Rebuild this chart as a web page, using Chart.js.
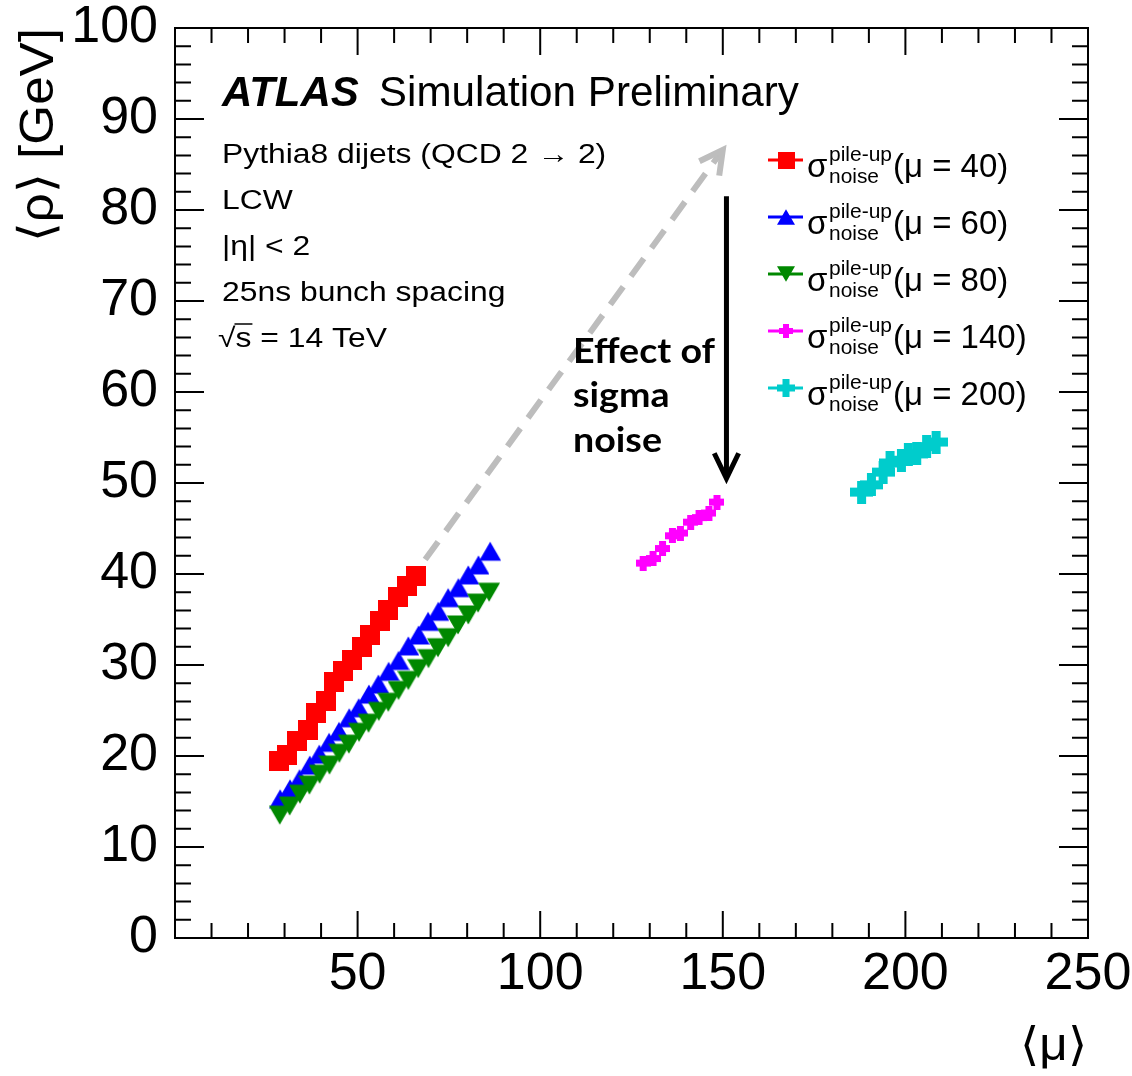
<!DOCTYPE html>
<html>
<head>
<meta charset="utf-8">
<script src="https://cdn.jsdelivr.net/npm/chart.js@4.4.1/dist/chart.umd.min.js"></script>
<style>
  html, body { margin: 0; padding: 0; background: #fff; }
</style>
</head>
<body>
<canvas id="rho" width="1132" height="1076"></canvas>
<script>
// <rho> vs <mu> for the pile-up noise thresholds tuned at different mu
const legendMu = [40, 60, 80, 140, 200];
const seriesColors = ['#ff0000', '#0000ff', '#008800', '#ff00ff', '#00cccc'];

const mu40 = [28.6, 30.8, 33.5, 36.3, 38.6, 41.3, 43.5, 46.1, 48.6, 51.1, 53.4, 56.1, 58.4, 61.1, 63.4, 66.1];
const rho40 = [19.4, 20.1, 21.6, 22.9, 24.7, 26.0, 28.1, 29.3, 30.5, 32.0, 33.3, 34.8, 36.0, 37.5, 38.7, 39.8];

const mu60 = [28.8, 31.5, 34.1, 36.9, 39.5, 42.2, 44.9, 47.7, 50.3, 53.1, 55.7, 58.5, 61.2, 63.9, 66.7, 69.3, 72.1, 74.8, 77.6, 80.3, 83.1, 86.3];
const rho60 = [15.3, 16.4, 17.5, 19.0, 20.2, 21.5, 22.7, 24.2, 25.3, 26.8, 27.9, 29.3, 30.5, 32.1, 33.3, 34.8, 35.9, 37.4, 38.5, 39.9, 41.0, 42.5];

const mu80 = [28.7, 31.4, 34.2, 36.8, 39.6, 42.3, 45.0, 47.6, 50.4, 53.0, 55.8, 58.4, 61.2, 63.9, 66.6, 69.4, 72.0, 74.8, 77.5, 80.3, 83.0, 86.0];
const rho80 = [13.5, 14.5, 15.8, 16.8, 18.0, 19.0, 20.3, 21.3, 22.6, 23.6, 24.9, 25.9, 27.2, 28.3, 29.6, 30.7, 31.9, 33.0, 34.4, 35.5, 36.8, 38.0];

const mu140 = [128.2, 130.9, 133.5, 136.2, 138.4, 141.2, 143.5, 146.2, 148.4];
const rho140 = [41.2, 41.7, 42.8, 44.2, 44.5, 45.7, 46.2, 46.7, 47.9];

const mu200 = [188.0, 190.7, 193.9, 195.8, 198.9, 200.8, 203.1, 205.8, 208.4];
const rho200 = [49.0, 49.8, 51.2, 52.2, 52.5, 53.1, 53.2, 54.0, 54.5];

const xTickLabels = ['', '50', '100', '150', '200', '250'];
const yTickLabels = ['0', '10', '20', '30', '40', '50', '60', '70', '80', '90', '100'];

const infoLines = ['Pythia8 dijets (QCD 2 \u2192 2)', 'LCW', '|\u03b7| < 2', '25ns bunch spacing'];

const FONT = '"Liberation Sans", Arial, Helvetica, sans-serif';

// ROOT-like filled markers, drawn once into small canvases
function marker(shape, color, size, arm) {
  const c = document.createElement('canvas');
  c.width = c.height = size;
  const g = c.getContext('2d');
  const s = size;
  g.fillStyle = color;
  if (shape === 'square') {
    g.fillRect(0, 0, s, s);
  } else if (shape === 'up' || shape === 'down') {
    const h = s * 0.87, top = (s - h) / 2;
    g.beginPath();
    if (shape === 'up') {
      g.moveTo(s / 2, top); g.lineTo(s, top + h); g.lineTo(0, top + h);
    } else {
      g.moveTo(0, top); g.lineTo(s, top); g.lineTo(s / 2, top + h);
    }
    g.closePath();
    g.fill();
  } else {
    const t = Math.round(s * arm);
    g.fillRect((s - t) / 2, 0, t, s);
    g.fillRect(0, (s - t) / 2, s, t);
  }
  return c;
}

const shapes = ['square', 'up', 'down', 'cross', 'cross'];
const armWidths = [0, 0, 0, 0.46, 0.38];
const plotSizes = [20, 22, 22, 15, 23];
const legendSizes = [17, 18, 18, 14, 18];
const plotMarkers = shapes.map((s, i) => marker(s, seriesColors[i], plotSizes[i], armWidths[i]));
const legendMarkers = shapes.map((s, i) => marker(s, seriesColors[i], legendSizes[i], armWidths[i]));

const toPoints = (xs, ys) => xs.map((v, i) => ({ x: v, y: ys[i] }));
const series = [[mu40, rho40], [mu60, rho60], [mu80, rho80], [mu140, rho140], [mu200, rho200]];

function drawText(ctx, str, x, y, font, opts = {}) {
  ctx.save();
  ctx.font = font;
  ctx.fillStyle = opts.color || '#000';
  ctx.textAlign = opts.align || 'left';
  ctx.textBaseline = 'alphabetic';
  let sx = opts.sx || 1;
  if (opts.width) sx = opts.width / ctx.measureText(str).width;
  const w = ctx.measureText(str).width * sx;
  ctx.translate(x, y);
  if (opts.rotate) ctx.rotate(opts.rotate);
  ctx.scale(sx, 1);
  ctx.fillText(str, 0, 0);
  ctx.restore();
  return w;
}

function arrowHead(ctx, x0, y0, x1, y1, len, ang) {
  const a = Math.atan2(y1 - y0, x1 - x0);
  ctx.beginPath();
  ctx.moveTo(x1 - len * Math.cos(a - ang), y1 - len * Math.sin(a - ang));
  ctx.lineTo(x1, y1);
  ctx.lineTo(x1 - len * Math.cos(a + ang), y1 - len * Math.sin(a + ang));
  ctx.stroke();
}

// frame with inward ticks on all four sides
const frame = {
  id: 'frame',
  beforeDatasetsDraw(chart) {
    const { ctx, chartArea: a, scales: { x, y } } = chart;
    ctx.save();
    ctx.strokeStyle = '#000';
    ctx.lineWidth = 2;
    ctx.beginPath();
    for (let v = 10; v < 250; v += 10) {
      const px = x.getPixelForValue(v);
      const len = v % 50 === 0 ? 27 : 15;
      ctx.moveTo(px, a.bottom); ctx.lineTo(px, a.bottom - len);
      ctx.moveTo(px, a.top); ctx.lineTo(px, a.top + len);
    }
    for (let v = 2; v < 100; v += 2) {
      const py = y.getPixelForValue(v);
      const len = v % 10 === 0 ? 29 : 16;
      ctx.moveTo(a.left, py); ctx.lineTo(a.left + len, py);
      ctx.moveTo(a.right, py); ctx.lineTo(a.right - len, py);
    }
    ctx.stroke();
    ctx.strokeRect(a.left, a.top, a.right - a.left, a.bottom - a.top);
    ctx.restore();
  }
};

const labels = {
  id: 'labels',
  afterDatasetsDraw(chart) {
    const { ctx, scales: { x, y } } = chart;

    // axis titles
    drawText(ctx, '\u27e8\u03c1\u27e9 [GeV]', 53, 28, `49px ${FONT}`, { align: 'right', rotate: -Math.PI / 2, width: 214 });
    drawText(ctx, '\u27e8\u03bc\u27e9', 1087, 1060, `46px ${FONT}`, { align: 'right', width: 67 });

    // ATLAS label and info block
    const wA = drawText(ctx, 'ATLAS', 222, 106, `italic bold 42px ${FONT}`);
    drawText(ctx, 'Simulation Preliminary', 222 + wA + 20, 106, `43px ${FONT}`, { width: 420 });
    infoLines.forEach((t, i) => {
      drawText(ctx, t, 222, 163 + i * 46, `27px ${FONT}`, { sx: 1.18 });
    });
    const f27 = `27px ${FONT}`;
    const wRoot = drawText(ctx, '\u221a', 218, 347, f27, { sx: 1.18 });
    const wS = drawText(ctx, 's', 218 + wRoot, 347, f27, { sx: 1.18 });
    drawText(ctx, ' = 14 TeV', 218 + wRoot + wS, 347, f27, { sx: 1.18 });
    ctx.save();
    ctx.strokeStyle = '#000';
    ctx.lineWidth = 1.5;
    ctx.beginPath();
    ctx.moveTo(218 + wRoot - 1, 324);
    ctx.lineTo(218 + wRoot + wS + 1, 324);
    ctx.stroke();
    ctx.restore();

    // legend
    legendMu.forEach((m, i) => {
      const cy = 160 + i * 57;
      ctx.save();
      ctx.strokeStyle = seriesColors[i];
      ctx.lineWidth = 3;
      ctx.beginPath();
      ctx.moveTo(768, cy); ctx.lineTo(803, cy);
      ctx.stroke();
      const mk = legendMarkers[i];
      ctx.drawImage(mk, 786 - mk.width / 2, cy - mk.height / 2);
      ctx.restore();
      drawText(ctx, '\u03c3', 807, cy + 17, `33px ${FONT}`);
      drawText(ctx, 'pile-up', 829, cy + 1, `21px ${FONT}`, { width: 63 });
      drawText(ctx, 'noise', 829, cy + 23, `21px ${FONT}`, { width: 50 });
      drawText(ctx, `(\u03bc = ${m})`, 893, cy + 17, `33px ${FONT}`);
    });

    // dashed grey arrow along the trend
    const gx0 = x.getPixelForValue(68.5), gy0 = y.getPixelForValue(41.6);
    const gx1 = x.getPixelForValue(150), gy1 = y.getPixelForValue(86.6);
    ctx.save();
    ctx.strokeStyle = '#bdbdbd';
    ctx.lineWidth = 6;
    ctx.setLineDash([22, 13]);
    ctx.beginPath();
    ctx.moveTo(gx0, gy0);
    ctx.lineTo(gx1 - 3, gy1 + 4);
    ctx.stroke();
    ctx.setLineDash([]);
    ctx.lineJoin = 'miter';
    arrowHead(ctx, gx0, gy0, gx1, gy1, 26, 0.49);
    ctx.restore();

    // black arrow: effect of the noise threshold
    const bx = x.getPixelForValue(151);
    const by0 = y.getPixelForValue(81.5), by1 = y.getPixelForValue(50.5);
    ctx.save();
    ctx.strokeStyle = '#000';
    ctx.lineWidth = 5;
    ctx.beginPath();
    ctx.moveTo(bx, by0); ctx.lineTo(bx, by1 - 3);
    ctx.stroke();
    arrowHead(ctx, bx, by0, bx, by1, 28, 0.45);
    ctx.restore();

    const fb = `bold 34px Lato, "DejaVu Sans", sans-serif`;
    ctx.save();
    ctx.font = fb;
    const sxB = 142 / ctx.measureText('Effect of').width;
    ctx.restore();
    drawText(ctx, 'Effect of', 573, 363, fb, { sx: sxB });
    drawText(ctx, 'sigma', 573, 407, fb, { sx: sxB });
    drawText(ctx, 'noise', 573, 452, fb, { sx: sxB });
  }
};

new Chart(document.getElementById('rho'), {
  type: 'scatter',
  data: {
    datasets: series.map(([xs, ys], i) => ({
      label: `mu = ${legendMu[i]}`,
      data: toPoints(xs, ys),
      pointStyle: plotMarkers[i],
      pointRadius: 5,
      showLine: false,
      order: series.length - i
    }))
  },
  options: {
    responsive: false,
    devicePixelRatio: 1,
    animation: false,
    layout: { padding: { left: 0, right: 44, top: 28, bottom: 0 } },
    plugins: { legend: { display: false }, tooltip: { enabled: false } },
    scales: {
      x: {
        type: 'linear',
        min: 0,
        max: 250,
        grid: { display: false },
        border: { display: false },
        ticks: {
          stepSize: 50,
          autoSkip: false,
          maxRotation: 0,
          padding: 3,
          color: '#000',
          font: { family: FONT, size: 52, lineHeight: 1 },
          callback: (v, i) => xTickLabels[i]
        },
        afterFit: s => { s.height = 138; s.paddingLeft = 0; s.paddingRight = 0; }
      },
      y: {
        type: 'linear',
        min: 0,
        max: 100,
        grid: { display: false },
        border: { display: false },
        ticks: {
          stepSize: 10,
          autoSkip: false,
          padding: 9,
          color: '#000',
          font: { family: FONT, size: 52 },
          callback: (v, i) => yTickLabels[i]
        },
        afterFit: s => { s.width = 175; s.paddingTop = 0; s.paddingBottom = 0; }
      }
    }
  },
  plugins: [frame, labels]
});
</script>
</body>
</html>
